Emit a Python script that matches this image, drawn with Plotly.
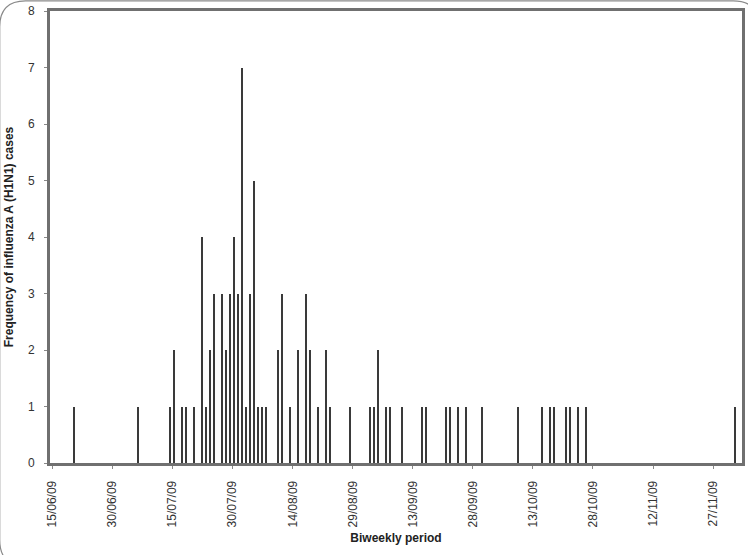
import plotly.graph_objects as go

# Onset dates of cases (daily) and case counts
dates = [
    "2009-06-20", "2009-07-06", "2009-07-14", "2009-07-15", "2009-07-17", "2009-07-18",
    "2009-07-20", "2009-07-22", "2009-07-23", "2009-07-24", "2009-07-25", "2009-07-27",
    "2009-07-28", "2009-07-29", "2009-07-30", "2009-07-31", "2009-08-01", "2009-08-02",
    "2009-08-03", "2009-08-04", "2009-08-05", "2009-08-06", "2009-08-07", "2009-08-10",
    "2009-08-11", "2009-08-13", "2009-08-15", "2009-08-17", "2009-08-18", "2009-08-20",
    "2009-08-22", "2009-08-23", "2009-08-28", "2009-09-02", "2009-09-03", "2009-09-04",
    "2009-09-06", "2009-09-07", "2009-09-10", "2009-09-15", "2009-09-16", "2009-09-21",
    "2009-09-22", "2009-09-24", "2009-09-26", "2009-09-30", "2009-10-09", "2009-10-15",
    "2009-10-17", "2009-10-18", "2009-10-21", "2009-10-22", "2009-10-24", "2009-10-26",
    "2009-12-02",
]
cases = [
    1, 1, 1, 2, 1, 1,
    1, 4, 1, 2, 3, 3,
    2, 3, 4, 3, 7, 1,
    3, 5, 1, 1, 1, 2,
    3, 1, 2, 3, 2, 1,
    2, 1, 1, 1, 1, 2,
    1, 1, 1, 1, 1, 1,
    1, 1, 1, 1, 1, 1,
    1, 1, 1, 1, 1, 1,
    1,
]

DAY = 86400000
FONT = "Liberation Sans, Arial, sans-serif"

fig = go.Figure()
fig.add_trace(go.Bar(
    x=dates, y=cases,
    width=0.36 * DAY, offset=0.22 * DAY,
    marker=dict(color="#3a3a3a", line=dict(width=0)),
    showlegend=False,
))

# plot area in px: x 50..745, y 11..463
L, R, T, B = 50, 745, 11, 463
W, H = R - L, B - T
def px(x):
    return (x - L) / W
def py(y):
    return (B - y) / H

# outer rounded chart border
r = 26
x0, y0, x1, y1 = -0.5, 0.8, 762, 566
path = (f"M {px(x0)},{py(y0 + r)} "
        f"Q {px(x0)},{py(y0)} {px(x0 + r)},{py(y0)} "
        f"L {px(x1 - r)},{py(y0)} Q {px(x1)},{py(y0)} {px(x1)},{py(y0 + r)} "
        f"L {px(x1)},{py(y1 - r)} Q {px(x1)},{py(y1)} {px(x1 - r)},{py(y1)} "
        f"L {px(x0 + r)},{py(y1)} Q {px(x0)},{py(y1)} {px(x0)},{py(y1 - r)} Z")
fig.add_shape(type="path", xref="paper", yref="paper", path=path,
              line=dict(color="#8a8a8a", width=1.2), layer="below")

fig.update_layout(
    width=748, height=555,
    margin=dict(l=L, r=748 - R, t=T, b=555 - B),
    paper_bgcolor="white", plot_bgcolor="white",
    font=dict(family=FONT, size=12, color="#333333"),
    bargap=0,
    xaxis=dict(
        type="date",
        range=["2009-06-14 10:00", "2009-12-04 05:00"],
        tick0="2009-06-15", dtick=15 * DAY,
        tickformat="%d/%m/%y", tickangle=-90,
        ticks="outside", ticklen=3, tickcolor="#888888",
        showline=True, linecolor="#707070", linewidth=2.8, mirror=True,
        showgrid=False, zeroline=False,
        tickfont=dict(family=FONT, size=12, color="#333333"),
        ticklabelstandoff=7,
        title=dict(text="<b>Biweekly period</b>", font=dict(family=FONT, size=12, color="#222222"), standoff=8),
    ),
    yaxis=dict(
        range=[0, 8], dtick=1, tick0=0,
        ticks="outside", ticklen=3, tickcolor="#888888",
        showline=True, linecolor="#707070", linewidth=2.8, mirror=True,
        showgrid=False, zeroline=False,
        tickfont=dict(family=FONT, size=12, color="#333333"),
        ticklabelstandoff=7,
        title=dict(text="<b>Frequency of influenza A (H1N1) cases</b>",
                   font=dict(family=FONT, size=12, color="#222222"), standoff=12),
    ),
)

fig.write_html("out.html")
